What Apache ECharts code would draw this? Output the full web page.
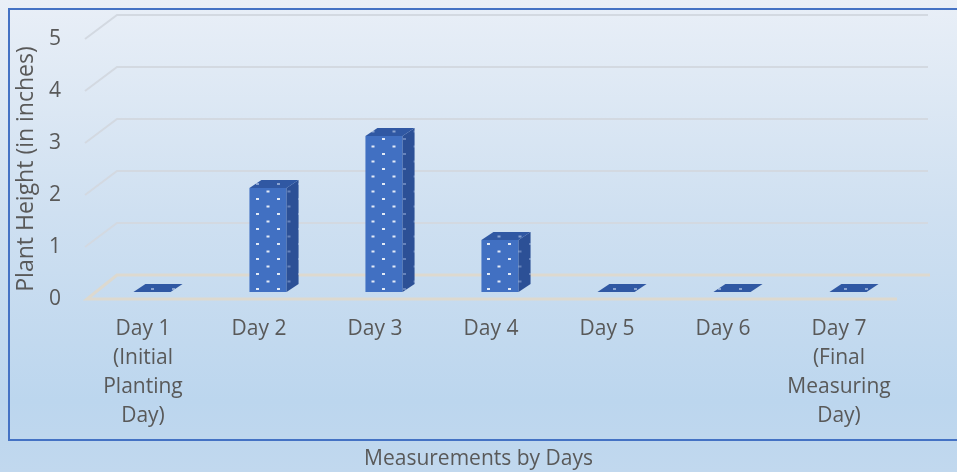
<!DOCTYPE html>
<html>
<head>
<meta charset="utf-8">
<script src="https://cdn.jsdelivr.net/npm/echarts@6/dist/echarts.min.js"></script>
<style>
html,body{margin:0;padding:0;}
#chart{width:957px;height:472px;}
</style>
</head>
<body>
<div id="chart"></div>
<script>
var categories = ['Day 1\n(Initial\nPlanting\nDay)', 'Day 2', 'Day 3', 'Day 4', 'Day 5', 'Day 6', 'Day 7\n(Final\nMeasuring\nDay)'];
var heights = [0, 2, 3, 1, 0, 0, 0];
var yTicks = [0, 1, 2, 3, 4, 5];

// dotted fill like the excel texture
function makePattern(bg, dot, alpha) {
    var c = document.createElement('canvas');
    c.width = 21; c.height = 15;
    var ctx = c.getContext('2d');
    ctx.fillStyle = bg;
    ctx.fillRect(0, 0, 21, 15);
    ctx.globalAlpha = alpha;
    ctx.fillStyle = dot;
    ctx.fillRect(4, 3, 3, 2);
    ctx.fillRect(14.5, 10.5, 3, 2);
    return { image: c, repeat: 'repeat' };
}
var frontFill = makePattern('#4170c2', '#ffffff', 0.85);
var sideFill = makePattern('#2c5096', '#9fb6e0', 0.5);
var topFill = makePattern('#3058a3', '#c7d6f0', 0.6);

var textCol = '#595959';
var fontFam = '"Open Sans", "Noto Sans", sans-serif';

var chartDom = document.getElementById('chart');
var myChart = echarts.init(chartDom);

var option = {
    animation: false,
    backgroundColor: new echarts.graphic.LinearGradient(0, 0, 0, 1, [
        { offset: 0, color: '#e9eff7' },
        { offset: 0.45, color: '#cfe0f1' },
        { offset: 0.85, color: '#bcd6ee' },
        { offset: 1, color: '#c1d8ee' }
    ]),
    title: {
        text: 'Measurements by Days',
        left: 'center',
        top: 444,
        textStyle: { color: textCol, fontFamily: fontFam, fontSize: 21, fontWeight: 'normal' }
    },
    graphic: [{
        type: 'rect',
        shape: { x: 9, y: 9, width: 960, height: 431 },
        style: { fill: 'none', stroke: '#4472c4', lineWidth: 2 },
        z: 0
    }],
    grid: { left: 85, right: 60, top: 39, bottom: 173 },
    xAxis: {
        type: 'category',
        data: categories,
        axisLine: { show: false },
        axisTick: { show: false },
        axisLabel: {
            color: textCol, fontFamily: fontFam, fontSize: 21,
            lineHeight: 29, margin: 16, interval: 0
        }
    },
    yAxis: {
        type: 'value',
        min: 0, max: 5, interval: 1,
        name: 'Plant Height (in inches)',
        nameLocation: 'middle',
        nameGap: 45,
        nameTextStyle: { color: textCol, fontFamily: fontFam, fontSize: 23 },
        axisLine: { show: false },
        axisTick: { show: false },
        splitLine: { show: false },
        axisLabel: { color: textCol, fontFamily: fontFam, fontSize: 21, margin: 24 }
    },
    series: [
        {
            // back wall gridlines + floor
            type: 'custom',
            data: yTicks.map(function (v) { return [0, v]; }),
            encode: { x: 0, y: 1 },
            silent: true,
            z: 1,
            renderItem: function (params, api) {
                var cs = params.coordSys;
                var y = api.coord([0, api.value(1)])[1];
                var x0 = cs.x, x1 = cs.x + cs.width;
                if (api.value(1) === 0) {
                    return {
                        type: 'polyline',
                        shape: { points: [[x1, y], [x0 + 2, y], [x0 + 32, y - 24], [x1 + 33, y - 24]] },
                        style: { stroke: '#ddd9cf', lineWidth: 3, fill: null }
                    };
                }
                return {
                    type: 'polyline',
                    shape: { points: [[x0, y], [x0 + 32, y - 24], [x1 + 31, y - 24]] },
                    style: { stroke: '#d3d9e1', lineWidth: 2, fill: null }
                };
            }
        },
        {
            type: 'custom',
            data: heights.map(function (v, i) { return [i, v]; }),
            encode: { x: 0, y: 1 },
            z: 3,
            renderItem: function (params, api) {
                var base = api.coord([api.value(0), 0]);
                var top = api.coord([api.value(0), api.value(1)]);
                var bw = api.size([1, 0])[0] * 0.32;
                var cx = base[0] + 9;
                var yb = base[1] - 7;
                var yt = top[1] - 7;
                var xl = cx - bw / 2, xr = cx + bw / 2;
                var dx = 12, dy = -8;
                var kids = [];
                if (yb - yt > 0.5) {
                    kids.push({
                        type: 'polygon',
                        shape: { points: [[xl, yt], [xr, yt], [xr, yb], [xl, yb]] },
                        style: { fill: frontFill }
                    });
                    kids.push({
                        type: 'polygon',
                        shape: { points: [[xr, yt], [xr + dx, yt + dy], [xr + dx, yb + dy], [xr, yb]] },
                        style: { fill: sideFill }
                    });
                }
                kids.push({
                    type: 'polygon',
                    shape: { points: [[xl, yt], [xr, yt], [xr + dx, yt + dy], [xl + dx, yt + dy]] },
                    style: { fill: topFill }
                });
                return { type: 'group', children: kids };
            }
        }
    ]
};

option && myChart.setOption(option);
</script>
</body>
</html>
